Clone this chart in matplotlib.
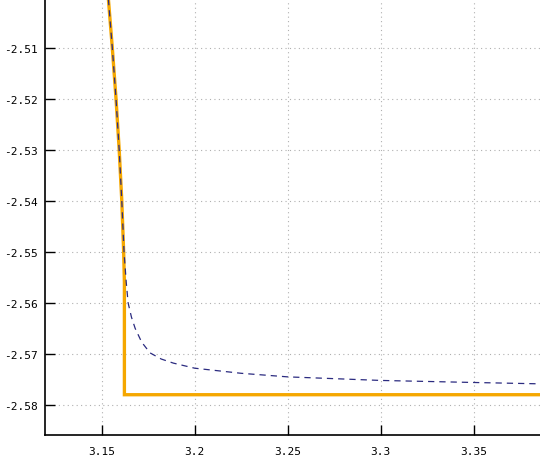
import matplotlib
matplotlib.use("Agg")
import matplotlib.pyplot as plt

# Orange step-like curve
orange_x = [3.1535, 3.1557, 3.1577, 3.1594, 3.1608, 3.1618, 3.1622, 3.1622, 3.39]
orange_y = [-2.500, -2.510, -2.520, -2.530, -2.540, -2.550, -2.556, -2.578, -2.578]

# Dashed asymptotic curve
dash_x = [3.1535, 3.1557, 3.1577, 3.1594, 3.1608, 3.1620, 3.1632, 3.1642, 3.1660, 3.1680,
          3.1715, 3.1760, 3.1820, 3.1885, 3.2000, 3.2250, 3.2500, 3.3000, 3.3500, 3.3900]
dash_y = [-2.500, -2.510, -2.520, -2.530, -2.540, -2.550, -2.556, -2.560, -2.5628, -2.565,
          -2.5677, -2.5698, -2.5710, -2.5718, -2.5728, -2.5738, -2.5745, -2.5752, -2.5756, -2.5759]

xticks = [3.15, 3.2, 3.25, 3.3, 3.35]
yticks = [-2.51, -2.52, -2.53, -2.54, -2.55, -2.56, -2.57, -2.58]

fig = plt.figure(figsize=(5.4, 4.6), dpi=100)
ax = fig.add_axes([45 / 540, 24 / 460, 1 - 45 / 540, 1 - 24 / 460])

ax.plot(orange_x, orange_y, color='#f5a700', linewidth=2.4, solid_joinstyle='miter')
ax.plot(dash_x, dash_y, color='#2b2b80', linewidth=0.9, linestyle=(0, (5, 4)))

ax.set_xlim(3.1195, 3.3857)
ax.set_ylim(-2.5859, -2.5004)
ax.set_xticks(xticks)
ax.set_xticklabels([f'{v:g}' for v in xticks])
ax.set_yticks(yticks)
ax.set_yticklabels([f'{v:g}' for v in yticks])

for lab in ax.get_xticklabels() + ax.get_yticklabels():
    lab.set_family('DejaVu Sans Mono')
    lab.set_fontsize(8)

ax.tick_params(direction='in', length=7, width=1)
ax.tick_params(axis='y', pad=5.5)
ax.tick_params(axis='x', pad=8)
ax.grid(True, color='#b0b0b0', linestyle=(0, (1, 3)), linewidth=0.8)
ax.set_axisbelow(True)
ax.spines['right'].set_visible(False)
for s in ['left', 'bottom', 'top']:
    ax.spines[s].set_linewidth(1.2)

fig.savefig('out.png', dpi=100)
